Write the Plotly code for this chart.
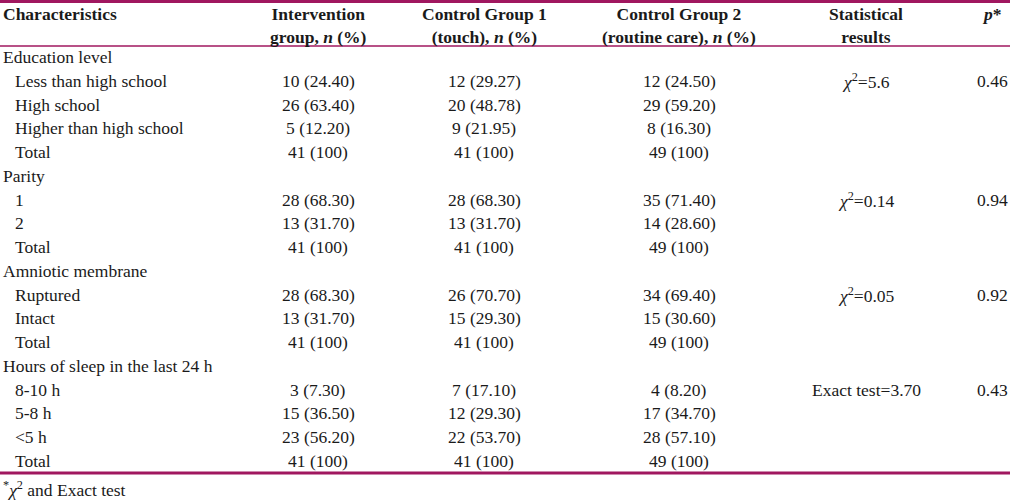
import plotly.graph_objects as go

# ---------------- data ----------------
header_labels = ["Characteristics",
                 "Intervention<br>group, <i>n</i> (%)",
                 "Control Group 1<br>(touch), <i>n</i> (%)",
                 "Control Group 2<br>(routine care), <i>n</i> (%)",
                 "Statistical<br>results",
                 "<i>p</i>*"]

row_labels = ["Education level", "Less than high school", "High school", "Higher than high school", "Total",
              "Parity", "1", "2", "Total",
              "Amniotic membrane", "Ruptured", "Intact", "Total",
              "Hours of sleep in the last 24 h", "8-10 h", "5-8 h", "&lt;5 h", "Total"]
row_indent = [0, 1, 1, 1, 1,
              0, 1, 1, 1,
              0, 1, 1, 1,
              0, 1, 1, 1, 1]
intervention = ["", "10 (24.40)", "26 (63.40)", "5 (12.20)", "41 (100)",
                "", "28 (68.30)", "13 (31.70)", "41 (100)",
                "", "28 (68.30)", "13 (31.70)", "41 (100)",
                "", "3 (7.30)", "15 (36.50)", "23 (56.20)", "41 (100)"]
control1 = ["", "12 (29.27)", "20 (48.78)", "9 (21.95)", "41 (100)",
            "", "28 (68.30)", "13 (31.70)", "41 (100)",
            "", "26 (70.70)", "15 (29.30)", "41 (100)",
            "", "7 (17.10)", "12 (29.30)", "22 (53.70)", "41 (100)"]
control2 = ["", "12 (24.50)", "29 (59.20)", "8 (16.30)", "49 (100)",
            "", "35 (71.40)", "14 (28.60)", "49 (100)",
            "", "34 (69.40)", "15 (30.60)", "49 (100)",
            "", "4 (8.20)", "17 (34.70)", "28 (57.10)", "49 (100)"]
stat_results = ["", "<i>χ</i><sup>2</sup>=5.6", "", "", "",
                "", "<i>χ</i><sup>2</sup>=0.14", "", "",
                "", "<i>χ</i><sup>2</sup>=0.05", "", "",
                "", "Exact test=3.70", "", "", ""]
p_values = ["", "0.46", "", "", "",
            "", "0.94", "", "",
            "", "0.92", "", "",
            "", "0.43", "", "", ""]
footnote = "<sup>*</sup><i>χ</i><sup>2</sup> and Exact test"

# ---------------- layout / style ----------------
W, H = 1010, 502
FONT = "Liberation Serif, Times New Roman, serif"
FS = 17.5
TXT = "#1a1a1a"
ACCENT = "#a0175f"
col_centers = [318, 484, 679, 866, 992]
row0, row_step = 57, 23.76
header_top_y = 14
line_h = 23

fig = go.Figure()
ann = []

# header (top-aligned multi-line labels)
ann.append(dict(x=1, y=header_top_y, text="<b>" + header_labels[0] + "</b>", xanchor="left", yanchor="middle"))
for cx, lab in zip(col_centers, header_labels[1:]):
    n_lines = lab.count("<br>") + 1
    ann.append(dict(x=cx, y=header_top_y + (n_lines - 1) * line_h / 2, text="<b>" + lab + "</b>",
                    xanchor="center", yanchor="middle"))

# body
columns = [intervention, control1, control2, stat_results, p_values]
for i, lab in enumerate(row_labels):
    y = row0 + i * row_step
    ann.append(dict(x=1 + 12 * row_indent[i], y=y, text=lab, xanchor="left", yanchor="middle"))
    for cx, col in zip(col_centers, columns):
        if col[i]:
            ann.append(dict(x=cx, y=y, text=col[i], xanchor="center", yanchor="middle"))

ann.append(dict(x=1, y=489, text=footnote, xanchor="left", yanchor="middle"))

for a in ann:
    a.update(xref="x", yref="y", showarrow=False,
             font=dict(family=FONT, size=FS, color=TXT), align="center")

shapes = [
    dict(type="line", xref="x", yref="y", x0=0, x1=W, y0=1.5, y1=1.5, line=dict(color=ACCENT, width=3)),
    dict(type="line", xref="x", yref="y", x0=0, x1=W, y0=46, y1=46, line=dict(color=ACCENT, width=1.5)),
    dict(type="line", xref="x", yref="y", x0=0, x1=W, y0=473, y1=473, line=dict(color=ACCENT, width=3)),
]

fig.update_layout(
    width=W, height=H,
    margin=dict(l=0, r=0, t=0, b=0),
    paper_bgcolor="white", plot_bgcolor="white",
    xaxis=dict(range=[0, W], visible=False, fixedrange=True),
    yaxis=dict(range=[H, 0], visible=False, fixedrange=True),
    annotations=ann, shapes=shapes, showlegend=False,
)

fig.write_html("out.html", config={"displayModeBar": False},
               post_script="document.body.style.margin='0px';document.body.style.overflow='hidden';")
